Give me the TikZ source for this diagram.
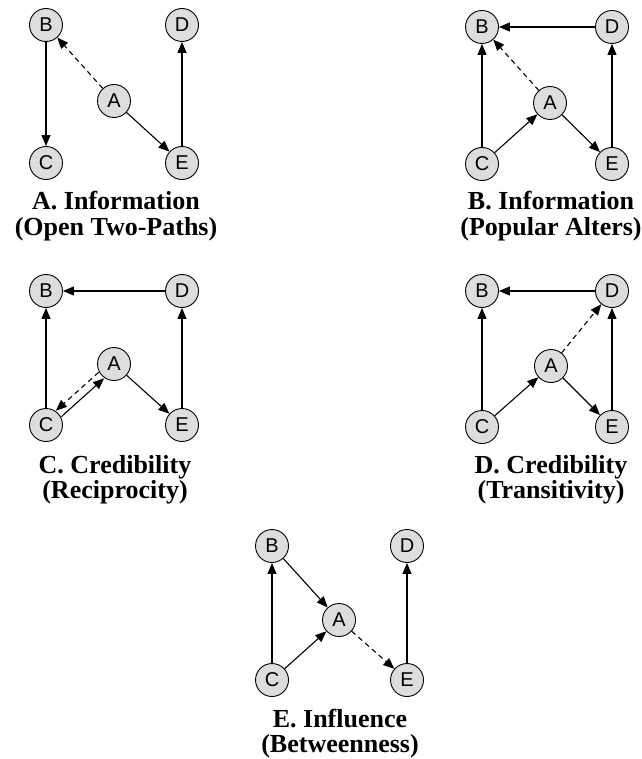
\documentclass[tikz,border=0pt]{standalone}
\usepackage{fontspec}
\setmainfont{Liberation Serif}
\newfontfamily\nodefontfam{Liberation Sans}
\usetikzlibrary{arrows.meta}
\definecolor{nodefill}{RGB}{221,221,221}
\tikzset{
  nd/.style={circle, draw=black, line width=0.9pt, fill=nodefill, minimum size=33pt, inner sep=0pt, font=\nodefontfam\fontsize{20}{20}\selectfont},
  ar/.style={-{Triangle[length=11pt,width=9pt]}, line width=1.1pt},
  dsh/.style={ar, dash pattern=on 5pt off 4pt},
  ttl/.style={anchor=base, inner sep=0pt, font=\bfseries\fontsize{26}{26}\selectfont}
}
\begin{document}
\begin{tikzpicture}[x=1pt,y=-1pt]
\useasboundingbox (0,0) rectangle (641,759);
% Panel A
\node[nd] (aB) at (46,25) {B};
\node[nd] (aD) at (182,25) {D};
\node[nd] (aA) at (114,101) {A};
\node[nd] (aC) at (46,163) {C};
\node[nd] (aE) at (182,163) {E};
\draw[ar] (aB) -- (aC);
\draw[dsh] (aA) -- (aB);
\draw[ar] (aA) -- (aE);
\draw[ar] (aE) -- (aD);
\node[ttl] (aT1) at (116,210) {A. Information};
\node[ttl] (aT2) at (116,235.5) {(Open Two-Paths)};
% Panel B
\node[nd] (bB) at (482,27) {B};
\node[nd] (bD) at (612,27) {D};
\node[nd] (bA) at (550,103) {A};
\node[nd] (bC) at (482,164) {C};
\node[nd] (bE) at (612,164) {E};
\draw[ar] (bD) -- (bB);
\draw[dsh] (bA) -- (bB);
\draw[ar] (bC) -- (bB);
\draw[ar] (bC) -- (bA);
\draw[ar] (bA) -- (bE);
\draw[ar] (bE) -- (bD);
\node[ttl] (bT1) at (551,210) {B. Information};
\node[ttl] (bT2) at (551,235.5) {(Popular Alters)};
% Panel C
\node[nd] (cB) at (46,291) {B};
\node[nd] (cD) at (182,291) {D};
\node[nd] (cA) at (114,364) {A};
\node[nd] (cC) at (46,425) {C};
\node[nd] (cE) at (182,425) {E};
\draw[ar] (cD) -- (cB);
\draw[ar] (cC) -- (cB);
\draw[ar] (cA) -- (cE);
\draw[ar] (cE) -- (cD);
\draw[dsh, transform canvas={xshift=-2.7pt,yshift=3pt}] (cA) -- (cC);
\draw[ar, transform canvas={xshift=2.7pt,yshift=-3pt}] (cC) -- (cA);
\node[ttl] (cT1) at (115,473) {C. Credibility};
\node[ttl] (cT2) at (115,498.5) {(Reciprocity)};
% Panel D
\node[nd] (dB) at (482,291) {B};
\node[nd] (dD) at (612,291) {D};
\node[nd] (dA) at (551,366) {A};
\node[nd] (dC) at (482,427) {C};
\node[nd] (dE) at (612,427) {E};
\draw[ar] (dD) -- (dB);
\draw[ar] (dC) -- (dB);
\draw[ar] (dE) -- (dD);
\draw[ar] (dC) -- (dA);
\draw[ar] (dA) -- (dE);
\draw[dsh] (dA) -- (dD);
\node[ttl] (dT1) at (551,473) {D. Credibility};
\node[ttl] (dT2) at (551,498.5) {(Transitivity)};
% Panel E
\node[nd] (eB) at (272,546) {B};
\node[nd] (eD) at (407,546) {D};
\node[nd] (eA) at (339,620) {A};
\node[nd] (eC) at (272,680) {C};
\node[nd] (eE) at (407,680) {E};
\draw[ar] (eC) -- (eB);
\draw[ar] (eB) -- (eA);
\draw[ar] (eC) -- (eA);
\draw[ar] (eE) -- (eD);
\draw[dsh] (eA) -- (eE);
\node[ttl] (eT1) at (340,727) {E. Influence};
\node[ttl] (eT2) at (340,752) {(Betweenness)};
\end{tikzpicture}
\end{document}
